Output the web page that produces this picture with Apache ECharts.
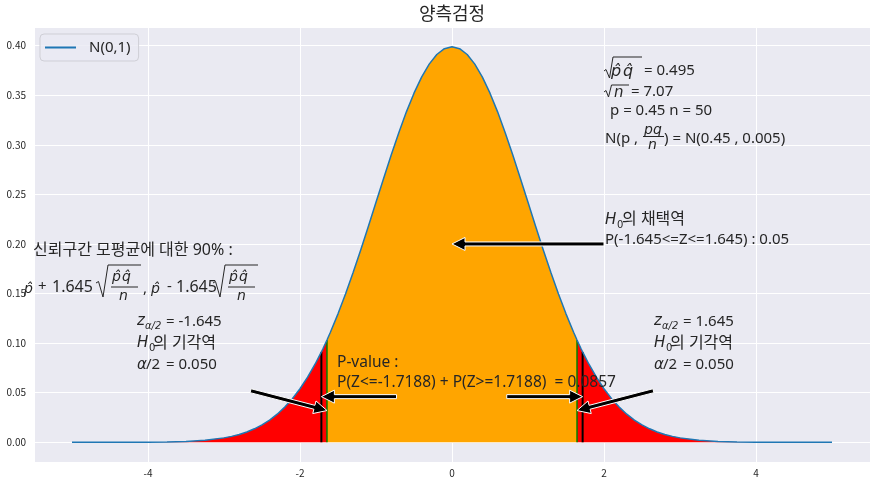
<!DOCTYPE html>
<html><head><meta charset="utf-8">
<script src="https://cdn.jsdelivr.net/npm/echarts@6/dist/echarts.min.js"></script>
<style>html,body{margin:0;padding:0;background:#fff}#c{width:877px;height:485px}</style>
</head><body><div id="c"></div>
<script>
// ---- data ----
const xValues = [-5,-4.75,-4.5,-4.25,-4,-3.75,-3.5,-3.25,-3,-2.9,-2.8,-2.7,-2.6,-2.5,-2.4,-2.3,-2.2,-2.1,-2,-1.9,-1.8,-1.7188,-1.7,-1.645,-1.6,-1.5,-1.4,-1.3,-1.2,-1.1,-1,-0.9,-0.8,-0.7,-0.6,-0.5,-0.4,-0.3,-0.2,-0.1,0,0.1,0.2,0.3,0.4,0.5,0.6,0.7,0.8,0.9,1,1.1,1.2,1.3,1.4,1.5,1.6,1.645,1.7,1.7188,1.8,1.9,2,2.1,2.2,2.3,2.4,2.5,2.6,2.7,2.8,2.9,3,3.25,3.5,3.75,4,4.25,4.5,4.75,5];
const pdfValues = [0.0000015,0.000005,0.000016,0.000048,0.000134,0.000353,0.000873,0.002029,0.004432,0.005953,0.007915,0.010421,0.013583,0.017528,0.022395,0.028327,0.035475,0.043984,0.053991,0.065616,0.07895,0.091075,0.094049,0.103111,0.110921,0.129518,0.149727,0.171369,0.194186,0.217852,0.241971,0.266085,0.289692,0.312254,0.333225,0.352065,0.36827,0.381388,0.391043,0.396953,0.398942,0.396953,0.391043,0.381388,0.36827,0.352065,0.333225,0.312254,0.289692,0.266085,0.241971,0.217852,0.194186,0.171369,0.149727,0.129518,0.110921,0.103111,0.094049,0.091075,0.07895,0.065616,0.053991,0.043984,0.035475,0.028327,0.022395,0.017528,0.013583,0.010421,0.007915,0.005953,0.004432,0.002029,0.000873,0.000353,0.000134,0.000048,0.000016,0.000005,0.0000015];
const criticalValues = [-1.645, 1.645];
const testStats = [-1.7188, 1.7188];
const xTickValues = [-4, -2, 0, 2, 4];
const yTickValues = [0, 0.05, 0.1, 0.15, 0.2, 0.25, 0.3, 0.35, 0.4];
const arrowTails = [[2, 0.2], [-2.65, 0.052], [2.65, 0.052], [-0.73, 0.046], [0.72, 0.046]];
const arrowHeads = [[0, 0.2], [-1.645, 0.032], [1.645, 0.032], [-1.7188, 0.046], [1.7188, 0.046]];

// ---- build ----
const pts = xValues.map((x, i) => [x, pdfValues[i]]);
const pdfAt = x => pdfValues[xValues.indexOf(x)];
const lo = criticalValues[0], hi = criticalValues[1];
const redLeft = pts.filter(p => p[0] <= lo);
const redRight = pts.filter(p => p[0] >= hi);
const orange = pts.filter(p => p[0] >= lo && p[0] <= hi);

const FT = '"Noto Sans", "Noto Sans CJK KR", sans-serif';
const FM = '"DejaVu Sans", sans-serif';
const TC = '#262626';
function T(x, y, s, size, fam, ital) {
  return {type: 'text', x: x, y: y, z: 10, silent: true,
    style: {text: s, font: (ital ? 'italic ' : '') + size + 'px ' + fam, fill: TC,
      align: 'left', verticalAlign: 'middle', textAlign: 'left', textVerticalAlign: 'middle'}};
}
function P(points, w) {
  return {type: 'polyline', z: 10, silent: true, shape: {points: points},
    style: {stroke: TC, lineWidth: w || 1, fill: null}};
}
function zBlock(x0, zs) {
  return [
    T(x0, 321, 'z', 15, FM, true), T(x0 + 8, 326, 'α/2', 10, FM, true), T(x0 + 29, 322, '= ' + zs, 15, FT),
    T(x0, 343, 'H', 15, FM, true), T(x0 + 12, 348, '0', 10, FM), T(x0 + 16, 343, '의 기각역', 16, FT),
    T(x0, 365, 'α', 15, FM, true), T(x0 + 9, 365, '/2', 15, FT), T(x0 + 29, 365, '= 0.050', 15, FT)
  ];
}
const graphics = [].concat(
  [
    // top right block
    P([[604,71],[606,69.5],[609.5,78],[613,57],[642,57]]),
    T(611, 72, 'p̂', 16, FM, true), T(623, 72, 'q̂', 16, FM, true),
    T(644, 71, '= 0.495', 15, FT),
    P([[604,92],[606,90.5],[608.5,97],[611.5,85],[629,85]]),
    T(614, 93, 'n', 15, FM, true),
    T(631, 92, '= 7.07', 15, FT),
    T(610, 111, 'p = 0.45 n = 50', 15, FT),
    T(605, 139, 'N(p ,', 15, FT),
    T(644, 130, 'pq', 14, FM, true),
    P([[643,136.5],[664,136.5]]),
    T(648, 145, 'n', 14, FM, true),
    T(664, 139, ') = N(0.45 , 0.005)', 15, FT),
    // acceptance region
    T(605, 220, 'H', 15, FM, true), T(617, 225, '0', 10, FM), T(622, 219, '의 채택역', 16, FT),
    T(605, 240, 'P(-1.645<=Z<=1.645) : 0.05', 15, FT),
    // confidence interval
    T(33, 250, '신뢰구간 모평균에 대한 90% :', 16, FT),
    T(24, 289, 'p̂', 14, FM, true),
    T(38, 287, '+', 15, FT), T(52, 287, '1.645', 16, FT),
    P([[96,283],[98.5,281.5],[103,297],[108,265],[141,265]]),
    T(112, 277, 'p̂', 14, FM, true), T(122, 277, 'q̂', 14, FM, true),
    P([[111,287],[138,287]]),
    T(119, 296, 'n', 14, FM, true),
    T(143, 289, ',', 15, FT),
    T(151, 289, 'p̂', 14, FM, true),
    T(167, 287, '-', 15, FT), T(176, 287, '1.645', 16, FT),
    P([[213,283],[215.5,281.5],[220,297],[225,265],[258,265]]),
    T(229, 277, 'p̂', 14, FM, true), T(239, 277, 'q̂', 14, FM, true),
    P([[228,287],[255,287]]),
    T(237, 296, 'n', 14, FM, true),
    // p-value
    T(337, 363, 'P-value :', 15.5, FT),
    T(337, 383, 'P(Z<=-1.7188) + P(Z>=1.7188)  = 0.0857', 15.5, FT)
  ],
  zBlock(137, '-1.645'),
  zBlock(654, '1.645')
);

const chart = echarts.init(document.getElementById('c'), null, {renderer: 'canvas'});
const isTick = (v, arr) => arr.some(t => Math.abs(t - v) < 1e-9);
chart.setOption({
  animation: false,
  backgroundColor: '#ffffff',
  title: {text: '양측검정', left: 452, top: 4, textAlign: 'center', padding: 0,
    textStyle: {fontSize: 18, fontWeight: 'normal', color: TC, fontFamily: '"Noto Sans CJK KR", sans-serif'}},
  legend: {data: [{name: 'N(0,1)', icon: 'rect'}], left: 40, top: 34, orient: 'vertical',
    padding: [6, 8, 6, 5], itemWidth: 31, itemHeight: 2,
    backgroundColor: 'rgba(234,234,242,0.8)', borderColor: '#cfcfd6', borderWidth: 1, borderRadius: 4,
    textStyle: {fontSize: 15, color: TC, fontFamily: FT, padding: [0, 0, 0, 8]}},
  grid: {left: 34, right: 7, top: 27, bottom: 23, show: true, backgroundColor: '#EAEAF2', borderWidth: 0, containLabel: false, outerBoundsMode: 'none'},
  xAxis: {type: 'value', min: -5.5, max: 5.5, splitNumber: 5,
    axisLine: {show: false}, axisTick: {show: false},
    splitLine: {show: true, lineStyle: {color: '#ffffff', width: 1}},
    axisLabel: {show: true, color: TC, fontSize: 10, margin: 6, fontFamily: '"Noto Sans CJK KR", sans-serif',
      showMinLabel: false, showMaxLabel: false,
      formatter: v => isTick(v, xTickValues) ? String(v) : ''}},
  yAxis: {type: 'value', min: -0.0199, max: 0.4188, splitNumber: 9,
    axisLine: {show: false}, axisTick: {show: false},
    splitLine: {show: true, lineStyle: {color: '#ffffff', width: 1}},
    axisLabel: {show: true, color: TC, fontSize: 10, margin: 8, fontFamily: '"Noto Sans CJK KR", sans-serif',
      showMinLabel: false, showMaxLabel: false,
      formatter: v => isTick(v, yTickValues) ? v.toFixed(2) : ''}},
  graphic: {elements: graphics},
  series: [
    {name: 'redL', type: 'line', data: redLeft, symbol: 'none', silent: true, z: 1,
      lineStyle: {width: 0, opacity: 0}, areaStyle: {color: '#FF0000', opacity: 1}},
    {name: 'redR', type: 'line', data: redRight, symbol: 'none', silent: true, z: 1,
      lineStyle: {width: 0, opacity: 0}, areaStyle: {color: '#FF0000', opacity: 1}},
    {name: 'accept', type: 'line', data: orange, symbol: 'none', silent: true, z: 1,
      lineStyle: {width: 0, opacity: 0}, areaStyle: {color: '#FFA500', opacity: 1}},
    ...criticalValues.map(c => ({name: 'crit' + c, type: 'line', data: [[c, 0], [c, pdfAt(c)]], symbol: 'none', silent: true, z: 3,
      lineStyle: {color: '#008000', width: 1.5}})),
    ...testStats.map(c => ({name: 'stat' + c, type: 'line', data: [[c, 0], [c, pdfAt(c)]], symbol: 'none', silent: true, z: 4,
      lineStyle: {color: '#000000', width: 2}})),
    {name: 'N(0,1)', type: 'line', data: pts, symbol: 'none', silent: true, z: 5, color: '#1f77b4',
      lineStyle: {color: '#1f77b4', width: 1.5}},
    {name: 'arrows', type: 'custom', coordinateSystem: 'cartesian2d', silent: true, z: 20, clip: false,
      data: arrowTails.map((t, i) => [t[0], t[1], arrowHeads[i][0], arrowHeads[i][1]]),
      encode: {x: [0, 2], y: [1, 3]},
      renderItem: function (params, api) {
        const a = api.coord([api.value(0), api.value(1)]);
        const b = api.coord([api.value(2), api.value(3)]);
        const dx = b[0] - a[0], dy = b[1] - a[1], L = Math.hypot(dx, dy);
        const ux = dx / L, uy = dy / L, nx = -uy, ny = ux;
        const hl = 13, hw = 6.5, sw = 2;
        const bx = b[0] - ux * hl, by = b[1] - uy * hl;
        const p = [[a[0] + nx * sw, a[1] + ny * sw], [bx + nx * sw, by + ny * sw], [bx + nx * hw, by + ny * hw],
          [b[0], b[1]], [bx - nx * hw, by - ny * hw], [bx - nx * sw, by - ny * sw], [a[0] - nx * sw, a[1] - ny * sw]];
        return {type: 'polygon', shape: {points: p}, style: {fill: '#000000', stroke: '#ffffff', lineWidth: 1}};
      }}
  ]
});
</script></body></html>
